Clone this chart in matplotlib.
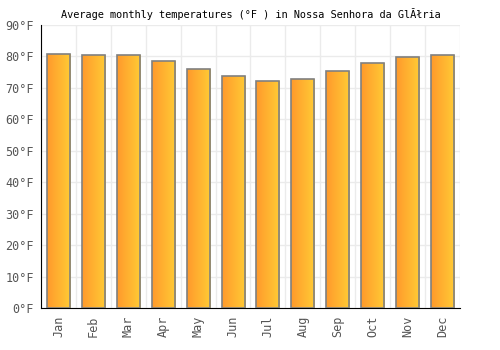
import numpy as np
import matplotlib
matplotlib.use("Agg")
import matplotlib.pyplot as plt
from matplotlib.colors import LinearSegmentedColormap

# -----------------------------
# DATA
# -----------------------------
months = ["Jan", "Feb", "Mar", "Apr", "May", "Jun",
          "Jul", "Aug", "Sep", "Oct", "Nov", "Dec"]
temps_f = [80.7, 80.4, 80.4, 78.6, 75.9, 73.7,
           72.2, 72.8, 75.4, 77.8, 79.7, 80.4]
y_ticks = [0, 10, 20, 30, 40, 50, 60, 70, 80, 90]
title = "Average monthly temperatures (°F ) in Nossa Senhora da GlĂłria"

plt.rcParams["font.family"] = ["DejaVu Sans Mono"]

fig = plt.figure(figsize=(5, 3.5), dpi=100)
ax = fig.add_axes([0.082, 0.1186, 0.838, 0.81])

x = np.arange(len(months))
bars = ax.bar(x, temps_f, width=0.66, color="none", edgecolor="#808080",
              linewidth=1.2, zorder=3)

# left-to-right orange -> yellow gradient in each bar
cmap = LinearSegmentedColormap.from_list("grad", ["#FF9A2C", "#FFCB35"])
grad = np.linspace(0, 1, 64).reshape(1, -1)
for b in bars:
    x0, y0 = b.get_x(), b.get_y()
    w, h = b.get_width(), b.get_height()
    im = ax.imshow(grad, cmap=cmap, aspect="auto", extent=[x0, x0 + w, y0, y0 + h],
                   zorder=2)
    im.set_clip_path(b)

ax.set_xlim(-0.5, len(months) - 0.5)
ax.set_ylim(0, 90)
ax.set_xticks(x)
ax.set_xticklabels(months, rotation=90, fontsize=8.5, color="#555555")
ax.set_yticks(y_ticks)
ax.set_yticklabels([f"{v}°F" for v in y_ticks], fontsize=8.5, color="#555555")
ax.tick_params(length=0, pad=5)

# grid at category boundaries and every 10 degrees
ax.set_xticks(np.arange(len(months) + 1) - 0.5, minor=True)
ax.tick_params(which="minor", length=0)
ax.grid(which="minor", axis="x", color="#EBEBEB", linewidth=1, zorder=0)
ax.grid(which="major", axis="y", color="#EBEBEB", linewidth=1, zorder=0)
ax.set_axisbelow(True)

for side in ["top", "right"]:
    ax.spines[side].set_visible(False)
ax.spines["left"].set_color("black")
ax.spines["bottom"].set_color("black")

ax.set_title(title, fontsize=7.4, color="black", pad=5)

fig.savefig("out.png", dpi=100)
plt.close()
